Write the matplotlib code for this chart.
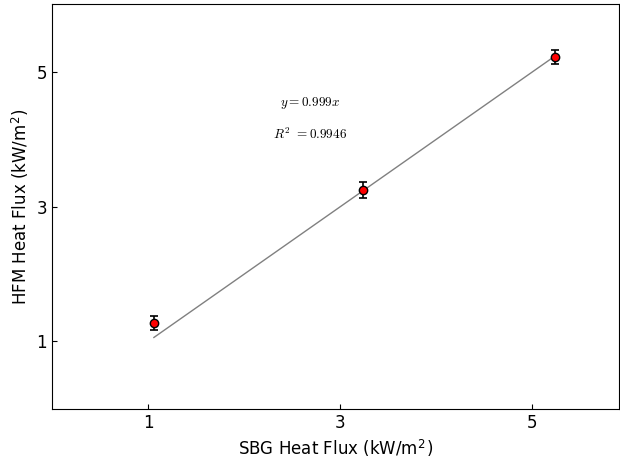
import matplotlib.pyplot as plt
import numpy as np

plt.rcParams['mathtext.fontset'] = 'cm'
plt.rcParams['mathtext.default'] = 'it'

sbg = np.array([1.06, 3.24, 5.24])
hfm = np.array([1.27, 3.25, 5.22])
hfm_err = np.array([0.10, 0.12, 0.10])
slope = 0.999
r2 = 0.9946

fig = plt.figure(figsize=(6.2, 4.61), dpi=100)
ax = fig.add_axes([0.084, 0.113, 0.914, 0.878])

# fitted line through origin
xfit = np.array([sbg.min(), sbg.max()])
ax.plot(xfit, slope * xfit, color='gray', lw=1)

ax.errorbar(sbg, hfm, yerr=hfm_err, fmt='o', color='red', ecolor='black',
            markeredgecolor='black', markersize=6, capsize=3, elinewidth=1.2, capthick=1.2)

ax.text(2.69, 4.54, r'$y\mathrm{=%.3f}x$' % slope, ha='center', va='center', fontsize=9.5)
ax.text(2.69, 4.07, r'$R^\mathrm{2}$ $\mathrm{=%.4f}$' % r2, ha='center', va='center', fontsize=9.5)

ax.set_xlim(0, 5.9)
ax.set_ylim(0, 6)
ax.set_xticks([1, 3, 5])
ax.set_yticks([1, 3, 5])
ax.tick_params(direction='in', labelsize=12)
ax.set_xlabel(r'SBG Heat Flux (kW/m$^\mathregular{2}$)', fontsize=12)
ax.set_ylabel(r'HFM Heat Flux (kW/m$^\mathregular{2}$)', fontsize=12)

fig.savefig('out.png')
